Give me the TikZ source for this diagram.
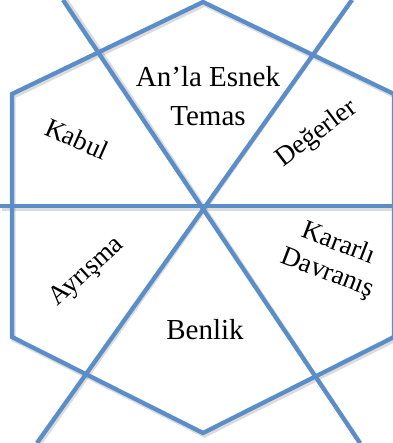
\documentclass[tikz,border=0pt]{standalone}
\usepackage{fontspec}
\setmainfont{Liberation Serif}
\usetikzlibrary{positioning}
\definecolor{FrameBlue}{HTML}{5B8EC8}
\definecolor{ShadowGrey}{HTML}{9A9A9A}
\tikzset{
    % Line styles
    frame/.style={
        draw=FrameBlue,
        line width=4.3pt,
        line join=miter
    },
    frameshadow/.style={
        draw=ShadowGrey,
        line width=4.3pt,
        opacity=0.35,
        shift={(1.5,2.5)}
    },
    % Label styles
    label/.style={
        align=center,
        inner sep=0pt,
        font=\fontsize{29}{39}\selectfont
    },
    sidelabel/.style={
        align=center,
        inner sep=0pt,
        font=\fontsize{27}{31}\selectfont
    }
}

\begin{document}
\begin{tikzpicture}[x=1pt, y=-1pt]
    \useasboundingbox (0,0) rectangle (392,443);

    % Shadows
    \draw[frameshadow] (203,2) -- (12,94) -- (12,337) -- (203,433) -- (394,337) -- (394,94) -- cycle;
    \draw[frameshadow] (0,206) -- (392,206);
    \draw[frameshadow] (63,-5) -- (360,443);
    \draw[frameshadow] (352,-5) -- (37,443);

    % Hexagon frame
    \draw[frame] (203,2) -- (12,94) -- (12,337) -- (203,433) -- (394,337) -- (394,94) -- cycle;

    % Crossing lines
    \draw[frame] (0,206) -- (392,206);
    \draw[frame] (63,0) -- (360,443);
    \draw[frame] (352,0) -- (37,443);

    % Labels
    \node[label] (temas) at (208,96) {An’la Esnek\\Temas};
    \node[label] (benlik) at (205,330) {Benlik};
    \node[sidelabel, rotate=-24] (kabul) at (77,139) {Kabul};
    \node[sidelabel, rotate=37] (degerler) at (317,134) {Değerler};
    \node[sidelabel, rotate=42] (ayrisma) at (87,272) {Ayrışma};
    \node[sidelabel, rotate=-21] (davranis) at (333,259) {Kararlı\\Davranış};
\end{tikzpicture}
\end{document}
